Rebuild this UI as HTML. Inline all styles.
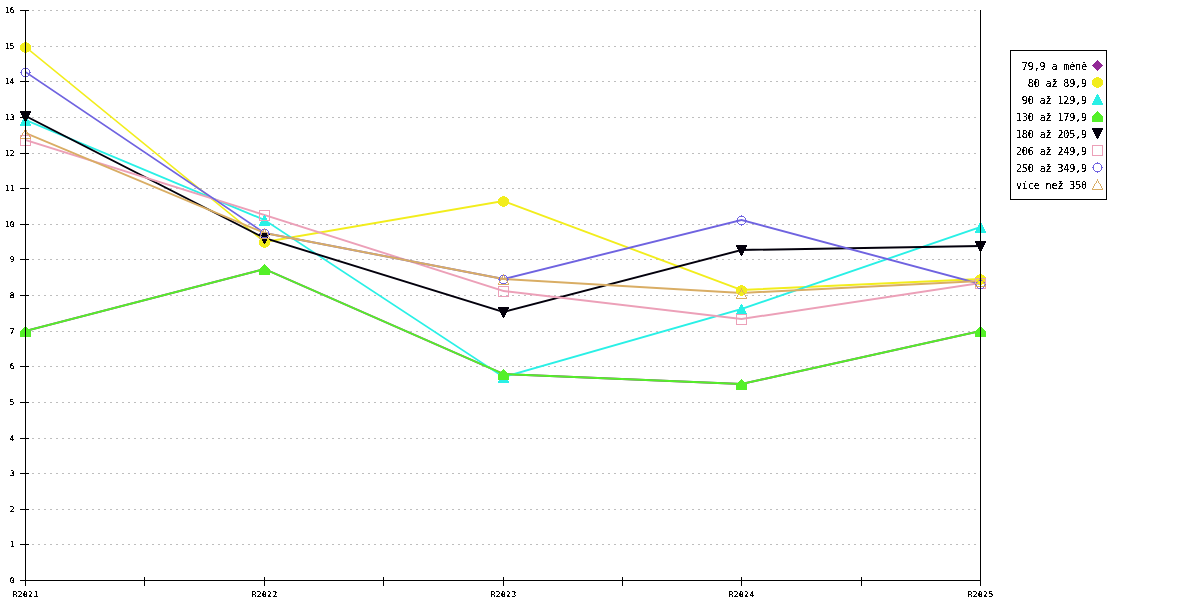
<!DOCTYPE html>
<html><head><meta charset="utf-8"><title>Graf</title>
<style>html,body{margin:0;padding:0;background:#fff;overflow:hidden}svg{display:block}</style>
</head><body>
<svg width="1200" height="600" viewBox="0 0 1200 600">
<defs><filter id="crisp" filterUnits="userSpaceOnUse" x="0" y="0" width="1200" height="600"><feComponentTransfer><feFuncA type="discrete" tableValues="0 1 1"/></feComponentTransfer></filter><filter id="crisp2" filterUnits="userSpaceOnUse" x="0" y="0" width="1200" height="600"><feComponentTransfer><feFuncA type="discrete" tableValues="0 0 1 1 1"/></feComponentTransfer></filter></defs>
<rect x="0" y="0" width="1200" height="600" fill="#fff"/>
<g stroke="#bebebe" stroke-width="1" stroke-dasharray="2 4" shape-rendering="crispEdges">
<line x1="32" y1="544.5" x2="978" y2="544.5"/>
<line x1="32" y1="509.5" x2="978" y2="509.5"/>
<line x1="32" y1="473.5" x2="978" y2="473.5"/>
<line x1="32" y1="438.5" x2="978" y2="438.5"/>
<line x1="32" y1="402.5" x2="978" y2="402.5"/>
<line x1="32" y1="366.5" x2="978" y2="366.5"/>
<line x1="32" y1="331.5" x2="978" y2="331.5"/>
<line x1="32" y1="295.5" x2="978" y2="295.5"/>
<line x1="32" y1="259.5" x2="978" y2="259.5"/>
<line x1="32" y1="224.5" x2="978" y2="224.5"/>
<line x1="32" y1="188.5" x2="978" y2="188.5"/>
<line x1="32" y1="153.5" x2="978" y2="153.5"/>
<line x1="32" y1="117.5" x2="978" y2="117.5"/>
<line x1="32" y1="81.5" x2="978" y2="81.5"/>
<line x1="32" y1="46.5" x2="978" y2="46.5"/>
<line x1="32" y1="10.5" x2="978" y2="10.5"/>
</g>
<g stroke="#000" stroke-width="1" shape-rendering="crispEdges">
<line x1="20" y1="580.5" x2="29" y2="580.5"/>
<line x1="20" y1="544.5" x2="29" y2="544.5"/>
<line x1="20" y1="509.5" x2="29" y2="509.5"/>
<line x1="20" y1="473.5" x2="29" y2="473.5"/>
<line x1="20" y1="438.5" x2="29" y2="438.5"/>
<line x1="20" y1="402.5" x2="29" y2="402.5"/>
<line x1="20" y1="366.5" x2="29" y2="366.5"/>
<line x1="20" y1="331.5" x2="29" y2="331.5"/>
<line x1="20" y1="295.5" x2="29" y2="295.5"/>
<line x1="20" y1="259.5" x2="29" y2="259.5"/>
<line x1="20" y1="224.5" x2="29" y2="224.5"/>
<line x1="20" y1="188.5" x2="29" y2="188.5"/>
<line x1="20" y1="153.5" x2="29" y2="153.5"/>
<line x1="20" y1="117.5" x2="29" y2="117.5"/>
<line x1="20" y1="81.5" x2="29" y2="81.5"/>
<line x1="20" y1="46.5" x2="29" y2="46.5"/>
<line x1="20" y1="10.5" x2="29" y2="10.5"/>
<line x1="25.5" y1="577" x2="25.5" y2="586"/>
<line x1="144.5" y1="577" x2="144.5" y2="586"/>
<line x1="264.5" y1="577" x2="264.5" y2="586"/>
<line x1="383.5" y1="577" x2="383.5" y2="586"/>
<line x1="503.5" y1="577" x2="503.5" y2="586"/>
<line x1="622.5" y1="577" x2="622.5" y2="586"/>
<line x1="741.5" y1="577" x2="741.5" y2="586"/>
<line x1="861.5" y1="577" x2="861.5" y2="586"/>
<line x1="980.5" y1="577" x2="980.5" y2="586"/>
</g>
<g font-family="DejaVu Sans Mono, Liberation Mono, monospace" font-size="7.8" fill="#000" filter="url(#crisp)">
<text x="14.5" y="582.5" text-anchor="end">0</text>
<text x="14.5" y="546.5" text-anchor="end">1</text>
<text x="14.5" y="511.5" text-anchor="end">2</text>
<text x="14.5" y="475.5" text-anchor="end">3</text>
<text x="14.5" y="440.5" text-anchor="end">4</text>
<text x="14.5" y="404.5" text-anchor="end">5</text>
<text x="14.5" y="368.5" text-anchor="end">6</text>
<text x="14.5" y="333.5" text-anchor="end">7</text>
<text x="14.5" y="297.5" text-anchor="end">8</text>
<text x="14.5" y="261.5" text-anchor="end">9</text>
<text x="14.5" y="226.5" text-anchor="end">10</text>
<text x="14.5" y="190.5" text-anchor="end">11</text>
<text x="14.5" y="155.5" text-anchor="end">12</text>
<text x="14.5" y="119.5" text-anchor="end">13</text>
<text x="14.5" y="83.5" text-anchor="end">14</text>
<text x="14.5" y="48.5" text-anchor="end">15</text>
<text x="14.5" y="12.5" text-anchor="end">16</text>
<text x="25.65" y="597" text-anchor="middle" letter-spacing="0.5">R2021</text>
<text x="264.65" y="597" text-anchor="middle" letter-spacing="0.5">R2022</text>
<text x="503.65" y="597" text-anchor="middle" letter-spacing="0.5">R2023</text>
<text x="741.65" y="597" text-anchor="middle" letter-spacing="0.5">R2024</text>
<text x="980.65" y="597" text-anchor="middle" letter-spacing="0.5">R2025</text>
</g>
<path d="M25.5 330.0L264.5 268.0L264.5 270.0L25.5 332.0ZM264.5 268.0L503.5 373.0L503.5 375.0L264.5 270.0ZM503.5 373.0L741.5 383.0L741.5 385.0L503.5 375.0ZM741.5 383.0L980.5 330.0L980.5 332.0L741.5 385.0Z" fill="#922896"/>
<path d="M25.5 46.0L264.5 241.0L264.5 243.0L25.5 48.0ZM264.5 241.0L503.5 200.0L503.5 202.0L264.5 243.0ZM503.5 200.0L741.5 289.0L741.5 291.0L503.5 202.0ZM741.5 289.0L980.5 278.0L980.5 280.0L741.5 291.0Z" fill="#f2ed1c"/>
<path d="M25.5 119.0L264.5 219.0L264.5 221.0L25.5 121.0ZM264.5 219.0L503.5 376.0L503.5 378.0L264.5 221.0ZM503.5 376.0L741.5 308.0L741.5 310.0L503.5 378.0ZM741.5 308.0L980.5 226.0L980.5 228.0L741.5 310.0Z" fill="#29f0e6"/>
<path d="M25.5 330.0L264.5 268.0L264.5 270.0L25.5 332.0ZM264.5 268.0L503.5 373.0L503.5 375.0L264.5 270.0ZM503.5 373.0L741.5 383.0L741.5 385.0L503.5 375.0ZM741.5 383.0L980.5 330.0L980.5 332.0L741.5 385.0Z" fill="#54f028"/>
<path d="M25.5 115.0L264.5 237.0L264.5 239.0L25.5 117.0ZM264.5 237.0L503.5 311.0L503.5 313.0L264.5 239.0ZM503.5 311.0L741.5 249.0L741.5 251.0L503.5 313.0ZM741.5 249.0L980.5 245.0L980.5 247.0L741.5 251.0Z" fill="#03000c"/>
<path d="M25.5 139.0L264.5 214.0L264.5 216.0L25.5 141.0ZM264.5 214.0L503.5 290.0L503.5 292.0L264.5 216.0ZM503.5 290.0L741.5 318.0L741.5 320.0L503.5 292.0ZM741.5 318.0L980.5 282.0L980.5 284.0L741.5 320.0Z" fill="#eca0b8"/>
<path d="M25.5 71.0L264.5 232.0L264.5 234.0L25.5 73.0ZM264.5 232.0L503.5 278.0L503.5 280.0L264.5 234.0ZM503.5 278.0L741.5 219.0L741.5 221.0L503.5 280.0ZM741.5 219.0L980.5 283.0L980.5 285.0L741.5 221.0Z" fill="#6f63e0"/>
<path d="M25.5 132.0L264.5 232.0L264.5 234.0L25.5 134.0ZM264.5 232.0L503.5 278.0L503.5 280.0L264.5 234.0ZM503.5 278.0L741.5 292.0L741.5 294.0L503.5 280.0ZM741.5 292.0L980.5 280.0L980.5 282.0L741.5 294.0Z" fill="#d9ad64"/>
<g shape-rendering="crispEdges">
<path d="M25 326h1v1h-1zM24 327h3v1h-3zM23 328h5v1h-5zM22 329h7v1h-7zM21 330h9v1h-9zM20 331h11v1h-11zM21 332h9v1h-9zM22 333h7v1h-7zM23 334h5v1h-5zM24 335h3v1h-3zM25 336h1v1h-1z" fill="#922896"/>
<path d="M264 264h1v1h-1zM263 265h3v1h-3zM262 266h5v1h-5zM261 267h7v1h-7zM260 268h9v1h-9zM259 269h11v1h-11zM260 270h9v1h-9zM261 271h7v1h-7zM262 272h5v1h-5zM263 273h3v1h-3zM264 274h1v1h-1z" fill="#922896"/>
<path d="M503 369h1v1h-1zM502 370h3v1h-3zM501 371h5v1h-5zM500 372h7v1h-7zM499 373h9v1h-9zM498 374h11v1h-11zM499 375h9v1h-9zM500 376h7v1h-7zM501 377h5v1h-5zM502 378h3v1h-3zM503 379h1v1h-1z" fill="#922896"/>
<path d="M741 379h1v1h-1zM740 380h3v1h-3zM739 381h5v1h-5zM738 382h7v1h-7zM737 383h9v1h-9zM736 384h11v1h-11zM737 385h9v1h-9zM738 386h7v1h-7zM739 387h5v1h-5zM740 388h3v1h-3zM741 389h1v1h-1z" fill="#922896"/>
<path d="M980 326h1v1h-1zM979 327h3v1h-3zM978 328h5v1h-5zM977 329h7v1h-7zM976 330h9v1h-9zM975 331h11v1h-11zM976 332h9v1h-9zM977 333h7v1h-7zM978 334h5v1h-5zM979 335h3v1h-3zM980 336h1v1h-1z" fill="#922896"/>
<path d="M24 42h3v1h-3zM22 43h7v1h-7zM21 44h9v1h-9zM20 45h11v1h-11zM20 46h11v1h-11zM20 47h11v1h-11zM20 48h11v1h-11zM20 49h11v1h-11zM21 50h9v1h-9zM22 51h7v1h-7zM24 52h3v1h-3z" fill="#f2ed1c"/>
<path d="M263 237h3v1h-3zM261 238h7v1h-7zM260 239h9v1h-9zM259 240h11v1h-11zM259 241h11v1h-11zM259 242h11v1h-11zM259 243h11v1h-11zM259 244h11v1h-11zM260 245h9v1h-9zM261 246h7v1h-7zM263 247h3v1h-3z" fill="#f2ed1c"/>
<path d="M502 196h3v1h-3zM500 197h7v1h-7zM499 198h9v1h-9zM498 199h11v1h-11zM498 200h11v1h-11zM498 201h11v1h-11zM498 202h11v1h-11zM498 203h11v1h-11zM499 204h9v1h-9zM500 205h7v1h-7zM502 206h3v1h-3z" fill="#f2ed1c"/>
<path d="M740 285h3v1h-3zM738 286h7v1h-7zM737 287h9v1h-9zM736 288h11v1h-11zM736 289h11v1h-11zM736 290h11v1h-11zM736 291h11v1h-11zM736 292h11v1h-11zM737 293h9v1h-9zM738 294h7v1h-7zM740 295h3v1h-3z" fill="#f2ed1c"/>
<path d="M979 274h3v1h-3zM977 275h7v1h-7zM976 276h9v1h-9zM975 277h11v1h-11zM975 278h11v1h-11zM975 279h11v1h-11zM975 280h11v1h-11zM975 281h11v1h-11zM976 282h9v1h-9zM977 283h7v1h-7zM979 284h3v1h-3z" fill="#f2ed1c"/>
<path d="M25 115h1v1h-1zM24 116h3v1h-3zM24 117h3v1h-3zM23 118h5v1h-5zM23 119h5v1h-5zM22 120h7v1h-7zM22 121h7v1h-7zM21 122h9v1h-9zM21 123h9v1h-9zM20 124h11v1h-11zM20 125h11v1h-11z" fill="#29f0e6"/>
<path d="M264 215h1v1h-1zM263 216h3v1h-3zM263 217h3v1h-3zM262 218h5v1h-5zM262 219h5v1h-5zM261 220h7v1h-7zM261 221h7v1h-7zM260 222h9v1h-9zM260 223h9v1h-9zM259 224h11v1h-11zM259 225h11v1h-11z" fill="#29f0e6"/>
<path d="M503 372h1v1h-1zM502 373h3v1h-3zM502 374h3v1h-3zM501 375h5v1h-5zM501 376h5v1h-5zM500 377h7v1h-7zM500 378h7v1h-7zM499 379h9v1h-9zM499 380h9v1h-9zM498 381h11v1h-11zM498 382h11v1h-11z" fill="#29f0e6"/>
<path d="M741 304h1v1h-1zM740 305h3v1h-3zM740 306h3v1h-3zM739 307h5v1h-5zM739 308h5v1h-5zM738 309h7v1h-7zM738 310h7v1h-7zM737 311h9v1h-9zM737 312h9v1h-9zM736 313h11v1h-11zM736 314h11v1h-11z" fill="#29f0e6"/>
<path d="M980 222h1v1h-1zM979 223h3v1h-3zM979 224h3v1h-3zM978 225h5v1h-5zM978 226h5v1h-5zM977 227h7v1h-7zM977 228h7v1h-7zM976 229h9v1h-9zM976 230h9v1h-9zM975 231h11v1h-11zM975 232h11v1h-11z" fill="#29f0e6"/>
<path d="M25 326h1v1h-1zM24 327h3v1h-3zM23 328h5v1h-5zM22 329h7v1h-7zM21 330h9v1h-9zM20 331h11v1h-11zM20 332h11v1h-11zM20 333h11v1h-11zM20 334h11v1h-11zM20 335h11v1h-11zM20 336h11v1h-11z" fill="#54f028"/>
<path d="M264 264h1v1h-1zM263 265h3v1h-3zM262 266h5v1h-5zM261 267h7v1h-7zM260 268h9v1h-9zM259 269h11v1h-11zM259 270h11v1h-11zM259 271h11v1h-11zM259 272h11v1h-11zM259 273h11v1h-11zM259 274h11v1h-11z" fill="#54f028"/>
<path d="M503 369h1v1h-1zM502 370h3v1h-3zM501 371h5v1h-5zM500 372h7v1h-7zM499 373h9v1h-9zM498 374h11v1h-11zM498 375h11v1h-11zM498 376h11v1h-11zM498 377h11v1h-11zM498 378h11v1h-11zM498 379h11v1h-11z" fill="#54f028"/>
<path d="M741 379h1v1h-1zM740 380h3v1h-3zM739 381h5v1h-5zM738 382h7v1h-7zM737 383h9v1h-9zM736 384h11v1h-11zM736 385h11v1h-11zM736 386h11v1h-11zM736 387h11v1h-11zM736 388h11v1h-11zM736 389h11v1h-11z" fill="#54f028"/>
<path d="M980 326h1v1h-1zM979 327h3v1h-3zM978 328h5v1h-5zM977 329h7v1h-7zM976 330h9v1h-9zM975 331h11v1h-11zM975 332h11v1h-11zM975 333h11v1h-11zM975 334h11v1h-11zM975 335h11v1h-11zM975 336h11v1h-11z" fill="#54f028"/>
<path d="M20 111h11v1h-11zM20 112h11v1h-11zM21 113h9v1h-9zM21 114h9v1h-9zM22 115h7v1h-7zM22 116h7v1h-7zM23 117h5v1h-5zM23 118h5v1h-5zM24 119h3v1h-3zM24 120h3v1h-3zM25 121h1v1h-1z" fill="#03000c"/>
<path d="M259 233h11v1h-11zM259 234h11v1h-11zM260 235h9v1h-9zM260 236h9v1h-9zM261 237h7v1h-7zM261 238h7v1h-7zM262 239h5v1h-5zM262 240h5v1h-5zM263 241h3v1h-3zM263 242h3v1h-3zM264 243h1v1h-1z" fill="#03000c"/>
<path d="M498 307h11v1h-11zM498 308h11v1h-11zM499 309h9v1h-9zM499 310h9v1h-9zM500 311h7v1h-7zM500 312h7v1h-7zM501 313h5v1h-5zM501 314h5v1h-5zM502 315h3v1h-3zM502 316h3v1h-3zM503 317h1v1h-1z" fill="#03000c"/>
<path d="M736 245h11v1h-11zM736 246h11v1h-11zM737 247h9v1h-9zM737 248h9v1h-9zM738 249h7v1h-7zM738 250h7v1h-7zM739 251h5v1h-5zM739 252h5v1h-5zM740 253h3v1h-3zM740 254h3v1h-3zM741 255h1v1h-1z" fill="#03000c"/>
<path d="M975 241h11v1h-11zM975 242h11v1h-11zM976 243h9v1h-9zM976 244h9v1h-9zM977 245h7v1h-7zM977 246h7v1h-7zM978 247h5v1h-5zM978 248h5v1h-5zM979 249h3v1h-3zM979 250h3v1h-3zM980 251h1v1h-1z" fill="#03000c"/>
<path d="M20 135h11v1h-11zM20 136h1v1h-1zM30 136h1v1h-1zM20 137h1v1h-1zM30 137h1v1h-1zM20 138h1v1h-1zM30 138h1v1h-1zM20 139h1v1h-1zM30 139h1v1h-1zM20 140h1v1h-1zM30 140h1v1h-1zM20 141h1v1h-1zM30 141h1v1h-1zM20 142h1v1h-1zM30 142h1v1h-1zM20 143h1v1h-1zM30 143h1v1h-1zM20 144h1v1h-1zM30 144h1v1h-1zM20 145h11v1h-11z" fill="#eca0b8"/>
<path d="M259 210h11v1h-11zM259 211h1v1h-1zM269 211h1v1h-1zM259 212h1v1h-1zM269 212h1v1h-1zM259 213h1v1h-1zM269 213h1v1h-1zM259 214h1v1h-1zM269 214h1v1h-1zM259 215h1v1h-1zM269 215h1v1h-1zM259 216h1v1h-1zM269 216h1v1h-1zM259 217h1v1h-1zM269 217h1v1h-1zM259 218h1v1h-1zM269 218h1v1h-1zM259 219h1v1h-1zM269 219h1v1h-1zM259 220h11v1h-11z" fill="#eca0b8"/>
<path d="M498 286h11v1h-11zM498 287h1v1h-1zM508 287h1v1h-1zM498 288h1v1h-1zM508 288h1v1h-1zM498 289h1v1h-1zM508 289h1v1h-1zM498 290h1v1h-1zM508 290h1v1h-1zM498 291h1v1h-1zM508 291h1v1h-1zM498 292h1v1h-1zM508 292h1v1h-1zM498 293h1v1h-1zM508 293h1v1h-1zM498 294h1v1h-1zM508 294h1v1h-1zM498 295h1v1h-1zM508 295h1v1h-1zM498 296h11v1h-11z" fill="#eca0b8"/>
<path d="M736 314h11v1h-11zM736 315h1v1h-1zM746 315h1v1h-1zM736 316h1v1h-1zM746 316h1v1h-1zM736 317h1v1h-1zM746 317h1v1h-1zM736 318h1v1h-1zM746 318h1v1h-1zM736 319h1v1h-1zM746 319h1v1h-1zM736 320h1v1h-1zM746 320h1v1h-1zM736 321h1v1h-1zM746 321h1v1h-1zM736 322h1v1h-1zM746 322h1v1h-1zM736 323h1v1h-1zM746 323h1v1h-1zM736 324h11v1h-11z" fill="#eca0b8"/>
<path d="M975 278h11v1h-11zM975 279h1v1h-1zM985 279h1v1h-1zM975 280h1v1h-1zM985 280h1v1h-1zM975 281h1v1h-1zM985 281h1v1h-1zM975 282h1v1h-1zM985 282h1v1h-1zM975 283h1v1h-1zM985 283h1v1h-1zM975 284h1v1h-1zM985 284h1v1h-1zM975 285h1v1h-1zM985 285h1v1h-1zM975 286h1v1h-1zM985 286h1v1h-1zM975 287h1v1h-1zM985 287h1v1h-1zM975 288h11v1h-11z" fill="#eca0b8"/>
<path d="M25 67h1v1h-1zM23 68h5v1h-5zM22 69h1v1h-1zM28 69h1v1h-1zM21 70h1v1h-1zM29 70h1v1h-1zM21 71h1v1h-1zM29 71h1v1h-1zM20 72h2v1h-2zM29 72h2v1h-2zM21 73h1v1h-1zM29 73h1v1h-1zM21 74h1v1h-1zM29 74h1v1h-1zM22 75h1v1h-1zM28 75h1v1h-1zM23 76h5v1h-5zM25 77h1v1h-1z" fill="#6f63e0"/>
<path d="M264 228h1v1h-1zM262 229h5v1h-5zM261 230h1v1h-1zM267 230h1v1h-1zM260 231h1v1h-1zM268 231h1v1h-1zM260 232h1v1h-1zM268 232h1v1h-1zM259 233h2v1h-2zM268 233h2v1h-2zM260 234h1v1h-1zM268 234h1v1h-1zM260 235h1v1h-1zM268 235h1v1h-1zM261 236h1v1h-1zM267 236h1v1h-1zM262 237h5v1h-5zM264 238h1v1h-1z" fill="#6f63e0"/>
<path d="M503 274h1v1h-1zM501 275h5v1h-5zM500 276h1v1h-1zM506 276h1v1h-1zM499 277h1v1h-1zM507 277h1v1h-1zM499 278h1v1h-1zM507 278h1v1h-1zM498 279h2v1h-2zM507 279h2v1h-2zM499 280h1v1h-1zM507 280h1v1h-1zM499 281h1v1h-1zM507 281h1v1h-1zM500 282h1v1h-1zM506 282h1v1h-1zM501 283h5v1h-5zM503 284h1v1h-1z" fill="#6f63e0"/>
<path d="M741 215h1v1h-1zM739 216h5v1h-5zM738 217h1v1h-1zM744 217h1v1h-1zM737 218h1v1h-1zM745 218h1v1h-1zM737 219h1v1h-1zM745 219h1v1h-1zM736 220h2v1h-2zM745 220h2v1h-2zM737 221h1v1h-1zM745 221h1v1h-1zM737 222h1v1h-1zM745 222h1v1h-1zM738 223h1v1h-1zM744 223h1v1h-1zM739 224h5v1h-5zM741 225h1v1h-1z" fill="#6f63e0"/>
<path d="M980 279h1v1h-1zM978 280h5v1h-5zM977 281h1v1h-1zM983 281h1v1h-1zM976 282h1v1h-1zM984 282h1v1h-1zM976 283h1v1h-1zM984 283h1v1h-1zM975 284h2v1h-2zM984 284h2v1h-2zM976 285h1v1h-1zM984 285h1v1h-1zM976 286h1v1h-1zM984 286h1v1h-1zM977 287h1v1h-1zM983 287h1v1h-1zM978 288h5v1h-5zM980 289h1v1h-1z" fill="#6f63e0"/>
<path d="M25 128h1v1h-1zM25 129h1v1h-1zM24 130h1v1h-1zM26 130h1v1h-1zM24 131h1v1h-1zM26 131h1v1h-1zM23 132h1v1h-1zM27 132h1v1h-1zM22 133h1v1h-1zM28 133h1v1h-1zM22 134h1v1h-1zM28 134h1v1h-1zM21 135h1v1h-1zM29 135h1v1h-1zM21 136h1v1h-1zM29 136h1v1h-1zM20 137h1v1h-1zM30 137h1v1h-1zM20 138h11v1h-11z" fill="#d9ad64"/>
<path d="M264 228h1v1h-1zM264 229h1v1h-1zM263 230h1v1h-1zM265 230h1v1h-1zM263 231h1v1h-1zM265 231h1v1h-1zM262 232h1v1h-1zM266 232h1v1h-1zM261 233h1v1h-1zM267 233h1v1h-1zM261 234h1v1h-1zM267 234h1v1h-1zM260 235h1v1h-1zM268 235h1v1h-1zM260 236h1v1h-1zM268 236h1v1h-1zM259 237h1v1h-1zM269 237h1v1h-1zM259 238h11v1h-11z" fill="#d9ad64"/>
<path d="M503 274h1v1h-1zM503 275h1v1h-1zM502 276h1v1h-1zM504 276h1v1h-1zM502 277h1v1h-1zM504 277h1v1h-1zM501 278h1v1h-1zM505 278h1v1h-1zM500 279h1v1h-1zM506 279h1v1h-1zM500 280h1v1h-1zM506 280h1v1h-1zM499 281h1v1h-1zM507 281h1v1h-1zM499 282h1v1h-1zM507 282h1v1h-1zM498 283h1v1h-1zM508 283h1v1h-1zM498 284h11v1h-11z" fill="#d9ad64"/>
<path d="M741 288h1v1h-1zM741 289h1v1h-1zM740 290h1v1h-1zM742 290h1v1h-1zM740 291h1v1h-1zM742 291h1v1h-1zM739 292h1v1h-1zM743 292h1v1h-1zM738 293h1v1h-1zM744 293h1v1h-1zM738 294h1v1h-1zM744 294h1v1h-1zM737 295h1v1h-1zM745 295h1v1h-1zM737 296h1v1h-1zM745 296h1v1h-1zM736 297h1v1h-1zM746 297h1v1h-1zM736 298h11v1h-11z" fill="#d9ad64"/>
<path d="M980 276h1v1h-1zM980 277h1v1h-1zM979 278h1v1h-1zM981 278h1v1h-1zM979 279h1v1h-1zM981 279h1v1h-1zM978 280h1v1h-1zM982 280h1v1h-1zM977 281h1v1h-1zM983 281h1v1h-1zM977 282h1v1h-1zM983 282h1v1h-1zM976 283h1v1h-1zM984 283h1v1h-1zM976 284h1v1h-1zM984 284h1v1h-1zM975 285h1v1h-1zM985 285h1v1h-1zM975 286h11v1h-11z" fill="#d9ad64"/>
</g>
<g stroke="#000" stroke-width="1" shape-rendering="crispEdges">
<line x1="25.5" y1="10" x2="25.5" y2="581"/>
<line x1="980.5" y1="10" x2="980.5" y2="581"/>
<line x1="20" y1="580.5" x2="981" y2="580.5"/>
</g>
<rect x="1010.5" y="50.5" width="96" height="149" fill="#fff" stroke="#000" stroke-width="1" shape-rendering="crispEdges"/>
<g font-family="DejaVu Sans Mono, Liberation Mono, monospace" font-size="10" letter-spacing="-0.1" fill="#000" filter="url(#crisp2)">
<text x="1087" y="70" text-anchor="end">79,9 a méně</text>
<text x="1087" y="87" text-anchor="end">80 až 89,9</text>
<text x="1087" y="104" text-anchor="end">90 až 129,9</text>
<text x="1087" y="121" text-anchor="end">130 až 179,9</text>
<text x="1087" y="138" text-anchor="end">180 až 205,9</text>
<text x="1087" y="155" text-anchor="end">206 až 249,9</text>
<text x="1087" y="172" text-anchor="end">250 až 349,9</text>
<text x="1087" y="189" text-anchor="end">více než 350</text>
</g>
<g shape-rendering="crispEdges">
<path d="M1097 60h1v1h-1zM1096 61h3v1h-3zM1095 62h5v1h-5zM1094 63h7v1h-7zM1093 64h9v1h-9zM1092 65h11v1h-11zM1093 66h9v1h-9zM1094 67h7v1h-7zM1095 68h5v1h-5zM1096 69h3v1h-3zM1097 70h1v1h-1z" fill="#922896"/>
<path d="M1096 77h3v1h-3zM1094 78h7v1h-7zM1093 79h9v1h-9zM1092 80h11v1h-11zM1092 81h11v1h-11zM1092 82h11v1h-11zM1092 83h11v1h-11zM1092 84h11v1h-11zM1093 85h9v1h-9zM1094 86h7v1h-7zM1096 87h3v1h-3z" fill="#f2ed1c"/>
<path d="M1097 94h1v1h-1zM1096 95h3v1h-3zM1096 96h3v1h-3zM1095 97h5v1h-5zM1095 98h5v1h-5zM1094 99h7v1h-7zM1094 100h7v1h-7zM1093 101h9v1h-9zM1093 102h9v1h-9zM1092 103h11v1h-11zM1092 104h11v1h-11z" fill="#29f0e6"/>
<path d="M1097 111h1v1h-1zM1096 112h3v1h-3zM1095 113h5v1h-5zM1094 114h7v1h-7zM1093 115h9v1h-9zM1092 116h11v1h-11zM1092 117h11v1h-11zM1092 118h11v1h-11zM1092 119h11v1h-11zM1092 120h11v1h-11zM1092 121h11v1h-11z" fill="#54f028"/>
<path d="M1092 128h11v1h-11zM1092 129h11v1h-11zM1093 130h9v1h-9zM1093 131h9v1h-9zM1094 132h7v1h-7zM1094 133h7v1h-7zM1095 134h5v1h-5zM1095 135h5v1h-5zM1096 136h3v1h-3zM1096 137h3v1h-3zM1097 138h1v1h-1z" fill="#03000c"/>
<path d="M1092 145h11v1h-11zM1092 146h1v1h-1zM1102 146h1v1h-1zM1092 147h1v1h-1zM1102 147h1v1h-1zM1092 148h1v1h-1zM1102 148h1v1h-1zM1092 149h1v1h-1zM1102 149h1v1h-1zM1092 150h1v1h-1zM1102 150h1v1h-1zM1092 151h1v1h-1zM1102 151h1v1h-1zM1092 152h1v1h-1zM1102 152h1v1h-1zM1092 153h1v1h-1zM1102 153h1v1h-1zM1092 154h1v1h-1zM1102 154h1v1h-1zM1092 155h11v1h-11z" fill="#eca0b8"/>
<path d="M1097 162h1v1h-1zM1095 163h5v1h-5zM1094 164h1v1h-1zM1100 164h1v1h-1zM1093 165h1v1h-1zM1101 165h1v1h-1zM1093 166h1v1h-1zM1101 166h1v1h-1zM1092 167h2v1h-2zM1101 167h2v1h-2zM1093 168h1v1h-1zM1101 168h1v1h-1zM1093 169h1v1h-1zM1101 169h1v1h-1zM1094 170h1v1h-1zM1100 170h1v1h-1zM1095 171h5v1h-5zM1097 172h1v1h-1z" fill="#6f63e0"/>
<path d="M1097 179h1v1h-1zM1097 180h1v1h-1zM1096 181h1v1h-1zM1098 181h1v1h-1zM1096 182h1v1h-1zM1098 182h1v1h-1zM1095 183h1v1h-1zM1099 183h1v1h-1zM1094 184h1v1h-1zM1100 184h1v1h-1zM1094 185h1v1h-1zM1100 185h1v1h-1zM1093 186h1v1h-1zM1101 186h1v1h-1zM1093 187h1v1h-1zM1101 187h1v1h-1zM1092 188h1v1h-1zM1102 188h1v1h-1zM1092 189h11v1h-11z" fill="#d9ad64"/>
</g>
</svg>
</body></html>
